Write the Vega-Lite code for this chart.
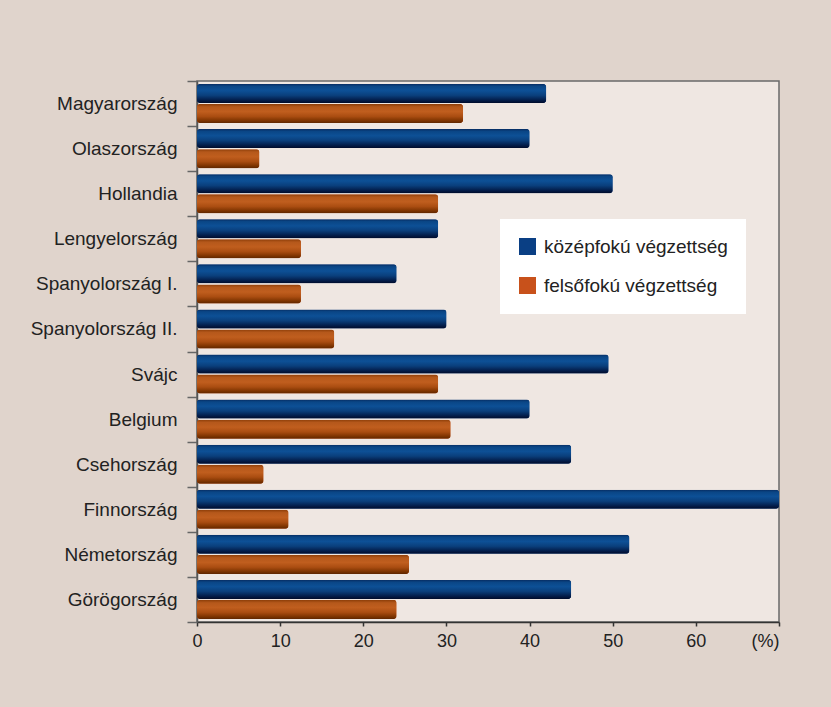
{
  "$schema": "https://vega.github.io/schema/vega-lite/v6.json",
  "autosize": {"type": "none"},
  "width": 582,
  "height": 541,
  "padding": {"left": 197, "top": 81, "right": 52, "bottom": 85},
  "background": "#e0d4cc",
  "config": {
    "font": "Liberation Sans",
    "view": {"fill": "#efe7e2", "stroke": "#6a6a6a", "strokeWidth": 1.5}
  },
  "data": {
    "values": [
      {"orszag": "Magyarország", "vegzettseg": "középfokú végzettség", "arany": 42},
      {"orszag": "Magyarország", "vegzettseg": "felsőfokú végzettség", "arany": 32},
      {"orszag": "Olaszország", "vegzettseg": "középfokú végzettség", "arany": 40},
      {"orszag": "Olaszország", "vegzettseg": "felsőfokú végzettség", "arany": 7.5},
      {"orszag": "Hollandia", "vegzettseg": "középfokú végzettség", "arany": 50},
      {"orszag": "Hollandia", "vegzettseg": "felsőfokú végzettség", "arany": 29},
      {"orszag": "Lengyelország", "vegzettseg": "középfokú végzettség", "arany": 29},
      {"orszag": "Lengyelország", "vegzettseg": "felsőfokú végzettség", "arany": 12.5},
      {"orszag": "Spanyolország I.", "vegzettseg": "középfokú végzettség", "arany": 24},
      {"orszag": "Spanyolország I.", "vegzettseg": "felsőfokú végzettség", "arany": 12.5},
      {"orszag": "Spanyolország II.", "vegzettseg": "középfokú végzettség", "arany": 30},
      {"orszag": "Spanyolország II.", "vegzettseg": "felsőfokú végzettség", "arany": 16.5},
      {"orszag": "Svájc", "vegzettseg": "középfokú végzettség", "arany": 49.5},
      {"orszag": "Svájc", "vegzettseg": "felsőfokú végzettség", "arany": 29},
      {"orszag": "Belgium", "vegzettseg": "középfokú végzettség", "arany": 40},
      {"orszag": "Belgium", "vegzettseg": "felsőfokú végzettség", "arany": 30.5},
      {"orszag": "Csehország", "vegzettseg": "középfokú végzettség", "arany": 45},
      {"orszag": "Csehország", "vegzettseg": "felsőfokú végzettség", "arany": 8},
      {"orszag": "Finnország", "vegzettseg": "középfokú végzettség", "arany": 70},
      {"orszag": "Finnország", "vegzettseg": "felsőfokú végzettség", "arany": 11},
      {"orszag": "Németország", "vegzettseg": "középfokú végzettség", "arany": 52},
      {"orszag": "Németország", "vegzettseg": "felsőfokú végzettség", "arany": 25.5},
      {"orszag": "Görögország", "vegzettseg": "középfokú végzettség", "arany": 45},
      {"orszag": "Görögország", "vegzettseg": "felsőfokú végzettség", "arany": 24}
    ]
  },
  "encoding": {
    "y": {
      "field": "orszag",
      "type": "nominal",
      "sort": null,
      "scale": {"paddingInner": 0, "paddingOuter": 0},
      "axis": {
        "title": null,
        "tickBand": "extent",
        "tickSize": 10,
        "tickWidth": 1.5,
        "tickColor": "#666666",
        "domainColor": "#555555",
        "domainWidth": 1.5,
        "labelFontSize": 19,
        "labelColor": "#222222",
        "labelPadding": 10,
        "labelLimit": 300,
        "labelBaseline": "middle"
      }
    },
    "yOffset": {
      "field": "vegzettseg",
      "type": "nominal",
      "sort": ["középfokú végzettség", "felsőfokú végzettség"],
      "scale": {"paddingInner": 0.05, "paddingOuter": 0.15}
    },
    "x": {
      "field": "arany",
      "type": "quantitative",
      "scale": {"domain": [0, 70], "nice": false},
      "axis": {
        "title": null,
        "values": [0, 10, 20, 30, 40, 50, 60, 70],
        "labelExpr": "datum.value == 70 ? '(%)' : datum.label",
        "labelAlign": {"expr": "datum.value == 70 ? 'right' : 'center'"},
        "grid": false,
        "tickSize": 4,
        "tickWidth": 1.5,
        "tickColor": "#333333",
        "domainColor": "#333333",
        "domainWidth": 1.5,
        "labelFontSize": 18,
        "labelColor": "#222222",
        "labelPadding": 6
      }
    }
  },
  "layer": [
    {
      "mark": {"type": "bar", "cornerRadius": 3},
      "encoding": {
        "color": {
          "field": "vegzettseg",
          "type": "nominal",
          "sort": ["középfokú végzettség", "felsőfokú végzettség"],
          "scale": {"range": ["#0a3f84", "#c8511b"]},
          "legend": {
            "title": null,
            "orient": "none",
            "legendX": 303,
            "legendY": 138,
            "fillColor": "#ffffff",
            "padding": 18,
            "symbolType": "square",
            "symbolSize": 289,
            "symbolStrokeWidth": 0,
            "labelFontSize": 19,
            "labelColor": "#222222",
            "labelOffset": 7,
            "rowPadding": 19,
            "labelLimit": 300
          }
        }
      }
    },
    {
      "transform": [{"filter": "datum.vegzettseg == 'középfokú végzettség'"}],
      "mark": {
        "type": "bar",
        "cornerRadius": 3,
        "color": {
          "gradient": "linear",
          "x1": 0, "y1": 0, "x2": 0, "y2": 1,
          "stops": [
            {"offset": 0, "color": "#062c62"},
            {"offset": 0.12, "color": "#0a4686"},
            {"offset": 0.35, "color": "#0d5096"},
            {"offset": 0.6, "color": "#0a3f7c"},
            {"offset": 0.85, "color": "#031d4a"},
            {"offset": 1, "color": "#000b2a"}
          ]
        }
      }
    },
    {
      "transform": [{"filter": "datum.vegzettseg == 'felsőfokú végzettség'"}],
      "mark": {
        "type": "bar",
        "cornerRadius": 3,
        "color": {
          "gradient": "linear",
          "x1": 0, "y1": 0, "x2": 0, "y2": 1,
          "stops": [
            {"offset": 0, "color": "#8c3d08"},
            {"offset": 0.15, "color": "#b5581b"},
            {"offset": 0.4, "color": "#c05e1e"},
            {"offset": 0.65, "color": "#aa4d11"},
            {"offset": 0.88, "color": "#7c3300"},
            {"offset": 1, "color": "#5e2600"}
          ]
        }
      }
    }
  ]
}
